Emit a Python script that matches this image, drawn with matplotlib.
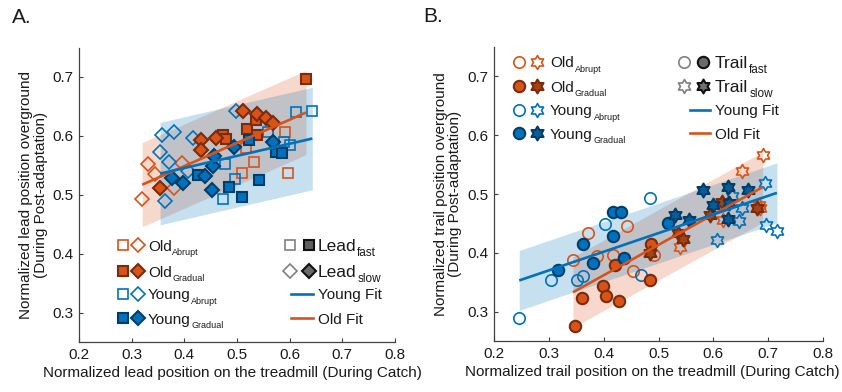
import numpy as np
import matplotlib
matplotlib.use("Agg")
import matplotlib.pyplot as plt
from matplotlib.path import Path
from matplotlib.transforms import offset_copy

plt.rcParams['font.family'] = ['Liberation Sans', 'DejaVu Sans']
plt.rcParams['mathtext.fontset'] = 'custom'
plt.rcParams['mathtext.rm'] = 'Liberation Sans'

# ---------------- Panel A: lead foot position ----------------
lead_old_abrupt_fast_x = [0.591, 0.533, 0.509, 0.596, 0.518]
lead_old_abrupt_fast_y = [0.607, 0.555, 0.537, 0.537, 0.580]
lead_old_abrupt_slow_x = [0.320, 0.331, 0.345, 0.396, 0.380]
lead_old_abrupt_slow_y = [0.493, 0.552, 0.535, 0.554, 0.511]
lead_old_gradual_fast_x = [0.474, 0.479, 0.519, 0.538, 0.537, 0.631]
lead_old_gradual_fast_y = [0.602, 0.594, 0.612, 0.602, 0.627, 0.697]
lead_old_gradual_slow_x = [0.354, 0.432, 0.431, 0.461, 0.512, 0.538, 0.556, 0.569]
lead_old_gradual_slow_y = [0.511, 0.593, 0.576, 0.596, 0.642, 0.637, 0.630, 0.622]
lead_young_abrupt_fast_x = [0.612, 0.643, 0.558, 0.600, 0.478, 0.497, 0.474, 0.590]
lead_young_abrupt_fast_y = [0.641, 0.643, 0.606, 0.585, 0.553, 0.527, 0.493, 0.590]
lead_young_abrupt_slow_x = [0.357, 0.380, 0.354, 0.371, 0.417, 0.363, 0.498, 0.407]
lead_young_abrupt_slow_y = [0.602, 0.606, 0.573, 0.556, 0.596, 0.489, 0.643, 0.540]
lead_young_gradual_fast_x = [0.426, 0.485, 0.510, 0.542, 0.523, 0.575, 0.586]
lead_young_gradual_fast_y = [0.534, 0.513, 0.496, 0.525, 0.593, 0.573, 0.571]
lead_young_gradual_slow_x = [0.376, 0.398, 0.440, 0.452, 0.455, 0.457, 0.494, 0.569]
lead_young_gradual_slow_y = [0.528, 0.520, 0.531, 0.508, 0.548, 0.566, 0.581, 0.590]

# linear fits: slope, intercept, half-width of shaded band
lead_old_fit = [0.394, 0.391, 0.0715]
lead_young_fit = [0.206, 0.463, 0.087]

# ---------------- Panel B: trail foot position ----------------
trail_old_abrupt_fast_x = [0.371, 0.442, 0.344, 0.387, 0.417, 0.453, 0.491]
trail_old_abrupt_fast_y = [0.433, 0.446, 0.387, 0.394, 0.396, 0.369, 0.397]
trail_old_abrupt_slow_x = [0.690, 0.652, 0.683, 0.539, 0.618, 0.685]
trail_old_abrupt_slow_y = [0.567, 0.539, 0.481, 0.410, 0.456, 0.476]
trail_old_gradual_fast_x = [0.348, 0.360, 0.398, 0.405, 0.428, 0.420, 0.484, 0.486]
trail_old_gradual_fast_y = [0.275, 0.323, 0.343, 0.326, 0.318, 0.380, 0.354, 0.415]
trail_old_gradual_slow_x = [0.536, 0.545, 0.594, 0.615, 0.679, 0.485]
trail_old_gradual_slow_y = [0.433, 0.424, 0.464, 0.487, 0.476, 0.399]
trail_young_abrupt_fast_x = [0.246, 0.304, 0.351, 0.363, 0.402, 0.468, 0.485]
trail_young_abrupt_fast_y = [0.289, 0.353, 0.353, 0.360, 0.449, 0.363, 0.494]
trail_young_abrupt_slow_x = [0.606, 0.646, 0.652, 0.634, 0.695, 0.696, 0.716]
trail_young_abrupt_slow_y = [0.421, 0.454, 0.476, 0.496, 0.518, 0.447, 0.437]
trail_young_gradual_fast_x = [0.317, 0.362, 0.380, 0.417, 0.431, 0.417, 0.437, 0.518]
trail_young_gradual_fast_y = [0.371, 0.415, 0.383, 0.470, 0.470, 0.428, 0.392, 0.451]
trail_young_gradual_slow_x = [0.582, 0.626, 0.664, 0.530, 0.555, 0.599, 0.626, 0.628]
trail_young_gradual_slow_y = [0.507, 0.512, 0.507, 0.464, 0.456, 0.481, 0.458, 0.484]

trail_old_fit = [0.517, 0.155, 0.060]
trail_young_fit = [0.317, 0.275, 0.051]

x_ticks = [0.2, 0.3, 0.4, 0.5, 0.6, 0.7, 0.8]
y_ticks = [0.3, 0.4, 0.5, 0.6, 0.7]

# ---------------- styles ----------------
ORANGE = '#D95319'
ORANGE_EDGE = '#7A2B0B'
ORANGE_STAR = '#A8420F'
BLUE = '#0072BD'
BLUE_EDGE = '#003E6A'
BLUE_STAR = '#0A5C98'
TXT = '#1a1a1a'

HEX = Path.unit_regular_star(6, 0.58)


def open_style(c):
    return dict(mfc='none', mec=c, mew=1.2)


def filled_style(face, edge):
    return dict(mfc=face, mec=edge, mew=1.5)


styles = {
    'old_abrupt': open_style(ORANGE),
    'old_gradual': filled_style(ORANGE, ORANGE_EDGE),
    'young_abrupt': open_style(BLUE),
    'young_gradual': filled_style(BLUE, BLUE_EDGE),
}
star_styles = {
    'old_abrupt': open_style(ORANGE),
    'old_gradual': filled_style(ORANGE_STAR, ORANGE_EDGE),
    'young_abrupt': open_style(BLUE),
    'young_gradual': filled_style(BLUE_STAR, BLUE_EDGE),
}

fig = plt.figure(figsize=(8.42, 3.92), dpi=100)
axA = fig.add_axes([79 / 842, 1 - 342 / 392, 316 / 842, 294.5 / 392])
axB = fig.add_axes([494 / 842, 1 - 341 / 392, 329 / 842, 294 / 392])


def style_axes(ax):
    ax.set_xlim(0.2, 0.8)
    ax.set_ylim(0.25, 0.75)
    ax.set_xticks(x_ticks)
    ax.set_yticks(y_ticks)
    for s in ('top', 'right'):
        ax.spines[s].set_visible(False)
    for s in ('left', 'bottom'):
        ax.spines[s].set_color('#404040')
        ax.spines[s].set_linewidth(0.9)
    ax.tick_params(direction='in', length=3, width=0.8, color='#404040',
                   labelsize=11, labelcolor=TXT, pad=4)


def draw_fit(ax, xs_list, fit, color):
    xs = np.concatenate([np.asarray(v) for v in xs_list])
    xr = np.array([xs.min(), xs.max()])
    slope, icpt, hw = fit
    yr = slope * xr + icpt
    ax.fill_between(xr, yr - hw, yr + hw, color=color, alpha=0.22, lw=0, zorder=1)
    return xr, yr


def draw_fit_line(ax, xr, yr, color):
    ax.plot(xr, yr, color=color, lw=1.9, zorder=5, solid_capstyle='butt')


# ---------------- Panel A ----------------
style_axes(axA)
xo, yo = draw_fit(axA, [lead_old_abrupt_fast_x, lead_old_abrupt_slow_x,
                        lead_old_gradual_fast_x, lead_old_gradual_slow_x], lead_old_fit, ORANGE)
xy_, yy_ = draw_fit(axA, [lead_young_abrupt_fast_x, lead_young_abrupt_slow_x,
                          lead_young_gradual_fast_x, lead_young_gradual_slow_x], lead_young_fit, BLUE)

SQ, DI = 7, 6.8
axA.plot(lead_old_abrupt_fast_x, lead_old_abrupt_fast_y, ls='none', marker='s', ms=SQ, zorder=3, **styles['old_abrupt'])
axA.plot(lead_old_abrupt_slow_x, lead_old_abrupt_slow_y, ls='none', marker='D', ms=DI, zorder=3, **styles['old_abrupt'])
axA.plot(lead_young_abrupt_fast_x, lead_young_abrupt_fast_y, ls='none', marker='s', ms=SQ, zorder=3, **styles['young_abrupt'])
axA.plot(lead_young_abrupt_slow_x, lead_young_abrupt_slow_y, ls='none', marker='D', ms=DI, zorder=3, **styles['young_abrupt'])
axA.plot(lead_old_gradual_fast_x, lead_old_gradual_fast_y, ls='none', marker='s', ms=SQ, zorder=4, **styles['old_gradual'])
axA.plot(lead_old_gradual_slow_x, lead_old_gradual_slow_y, ls='none', marker='D', ms=DI, zorder=4, **styles['old_gradual'])
axA.plot(lead_young_gradual_fast_x, lead_young_gradual_fast_y, ls='none', marker='s', ms=SQ, zorder=4, **styles['young_gradual'])
axA.plot(lead_young_gradual_slow_x, lead_young_gradual_slow_y, ls='none', marker='D', ms=DI, zorder=4, **styles['young_gradual'])
draw_fit_line(axA, xo, yo, ORANGE)
draw_fit_line(axA, xy_, yy_, BLUE)

axA.set_xlabel('Normalized lead position on the treadmill (During Catch)', fontsize=11, color=TXT)
axA.xaxis.set_label_coords(0.487, -0.082)
axA.xaxis.label.set_va('top')
axA.set_ylabel('Normalized lead position overground\n(During Post-adaptation)', fontsize=11,
               color=TXT, linespacing=1.05)
axA.yaxis.set_label_coords(-0.098, 0.5)

# ---------------- Panel B ----------------
style_axes(axB)
xo, yo = draw_fit(axB, [trail_old_abrupt_fast_x, trail_old_abrupt_slow_x,
                        trail_old_gradual_fast_x, trail_old_gradual_slow_x], trail_old_fit, ORANGE)
xy_, yy_ = draw_fit(axB, [trail_young_abrupt_fast_x, trail_young_abrupt_slow_x,
                          trail_young_gradual_fast_x, trail_young_gradual_slow_x], trail_young_fit, BLUE)

CI, ST = 8.2, 10
axB.plot(trail_old_abrupt_fast_x, trail_old_abrupt_fast_y, ls='none', marker='o', ms=CI, zorder=3, **styles['old_abrupt'])
axB.plot(trail_old_abrupt_slow_x, trail_old_abrupt_slow_y, ls='none', marker=HEX, ms=ST, zorder=3, **star_styles['old_abrupt'])
axB.plot(trail_young_abrupt_fast_x, trail_young_abrupt_fast_y, ls='none', marker='o', ms=CI, zorder=3, **styles['young_abrupt'])
axB.plot(trail_young_abrupt_slow_x, trail_young_abrupt_slow_y, ls='none', marker=HEX, ms=ST, zorder=3, **star_styles['young_abrupt'])
axB.plot(trail_old_gradual_fast_x, trail_old_gradual_fast_y, ls='none', marker='o', ms=CI, zorder=4, **styles['old_gradual'])
axB.plot(trail_old_gradual_slow_x, trail_old_gradual_slow_y, ls='none', marker=HEX, ms=ST, zorder=4, **star_styles['old_gradual'])
axB.plot(trail_young_gradual_fast_x, trail_young_gradual_fast_y, ls='none', marker='o', ms=CI, zorder=4, **styles['young_gradual'])
axB.plot(trail_young_gradual_slow_x, trail_young_gradual_slow_y, ls='none', marker=HEX, ms=ST, zorder=4, **star_styles['young_gradual'])
draw_fit_line(axB, xo, yo, ORANGE)
draw_fit_line(axB, xy_, yy_, BLUE)

axB.set_xlabel('Normalized trail position on the treadmill (During Catch)', fontsize=11, color=TXT)
axB.xaxis.set_label_coords(0.48, -0.082)
axB.xaxis.label.set_va('top')
axB.set_ylabel('Normalized trail position overground\n(During Post-adaptation)', fontsize=11,
               color=TXT, linespacing=1.05)
axB.yaxis.set_label_coords(-0.097, 0.5)


# ---------------- legends ----------------
def key_markers(ax, xs, y, specs):
    for x, (mk, ms, st) in zip(xs, specs):
        ax.plot([x], [y], ls='none', marker=mk, ms=ms, transform=ax.transAxes,
                clip_on=False, zorder=6, **st)


def key_label(ax, x, y, main, sub, size, subsize, drop_px):
    tr = offset_copy(ax.transAxes, fig=fig, x=0, y=-drop_px, units='dots')
    t = ax.text(x, y, main, transform=tr, fontsize=size, va='baseline', ha='left', color=TXT)
    if sub:
        ax.annotate(sub, xy=(1, 0), xycoords=t, xytext=(0.6, -1.2), textcoords='offset points',
                    fontsize=subsize, va='baseline', ha='left', color=TXT)


gray_open = dict(mfc='none', mec='#808080', mew=1.2)
gray_fill_sq = dict(mfc='#606060', mec='#111111', mew=1.5)
gray_fill_di = dict(mfc='#6a6a6a', mec='#111111', mew=1.5)
gray_fill_st = dict(mfc='#707070', mec='#111111', mew=1.5)

# Panel A legend
rowsA = [0.329, 0.241, 0.163, 0.081]
groupsA = [('old_abrupt', 'Old', 'Abrupt'), ('old_gradual', 'Old', 'Gradual'),
           ('young_abrupt', 'Young', 'Abrupt'), ('young_gradual', 'Young', 'Gradual')]
for y, (g, main, sub) in zip(rowsA, groupsA):
    key_markers(axA, [0.138, 0.187], y, [('s', SQ, styles[g]), ('D', DI, styles[g])])
    key_label(axA, 0.218, y, main, sub, 11, 6.5, 5.5)
key_markers(axA, [0.668, 0.727], rowsA[0], [('s', SQ, dict(mfc='none', mec='#808080', mew=1.2)), ('s', SQ, gray_fill_sq)])
key_label(axA, 0.756, rowsA[0], 'Lead', 'fast', 12.5, 8.5, 6.2)
key_markers(axA, [0.668, 0.727], rowsA[1], [('D', DI, gray_open), ('D', DI, gray_fill_di)])
key_label(axA, 0.756, rowsA[1], 'Lead', 'slow', 12.5, 8.5, 6.2)
for y, c, lab in [(rowsA[2], BLUE, 'Young Fit'), (rowsA[3], ORANGE, 'Old Fit')]:
    axA.plot([0.672, 0.740], [y, y], color=c, lw=1.9, transform=axA.transAxes, clip_on=False)
    key_label(axA, 0.756, y, lab, None, 11, 0, 5.5)

# Panel B legend
rowsB = [0.949, 0.867, 0.786, 0.707]
for y, (g, main, sub) in zip(rowsB, groupsA):
    key_markers(axB, [0.076, 0.131], y, [('o', CI, styles[g]), (HEX, ST, star_styles[g])])
    key_label(axB, 0.170, y, main, sub, 11, 6.5, 5.5)
key_markers(axB, [0.578, 0.635], rowsB[0], [('o', CI, gray_open), ('o', CI, dict(mfc='#6a6a6a', mec='#111111', mew=1.5))])
key_label(axB, 0.672, rowsB[0], 'Trail', 'fast', 12.5, 8.5, 6.2)
key_markers(axB, [0.578, 0.635], rowsB[1], [(HEX, ST, gray_open), (HEX, ST, gray_fill_st)])
key_label(axB, 0.672, rowsB[1], 'Trail', 'slow', 12.5, 8.5, 6.2)
for y, c, lab in [(rowsB[2], BLUE, 'Young Fit'), (rowsB[3], ORANGE, 'Old Fit')]:
    axB.plot([0.596, 0.657], [y, y], color=c, lw=1.9, transform=axB.transAxes, clip_on=False)
    key_label(axB, 0.672, y, lab, None, 11, 0, 5.5)

# panel letters
fig.text(12 / 842, 1 - 8 / 392, 'A.', fontsize=15, va='top', ha='left', color=TXT)
fig.text(423 / 842, 1 - 7 / 392, 'B.', fontsize=15, va='top', ha='left', color=TXT)

fig.savefig('out.png', dpi=100)
